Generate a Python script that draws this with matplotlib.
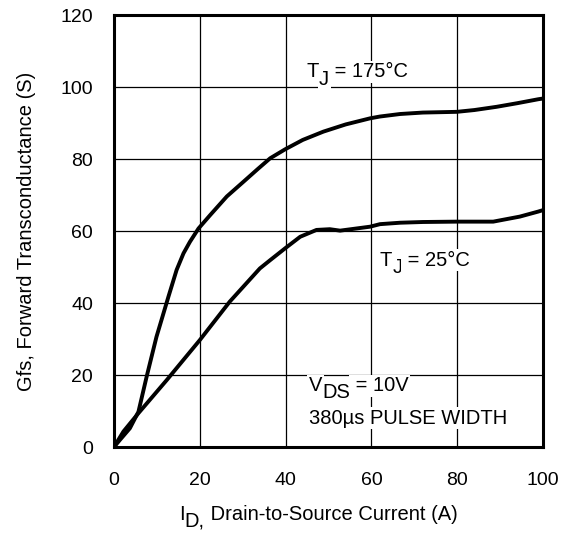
import numpy as np
import matplotlib
matplotlib.use("Agg")
import matplotlib.pyplot as plt

plt.rcParams['font.family'] = ['Liberation Sans', 'DejaVu Sans']

# 175°C 曲线
id_175 = [0, 1.4, 3.7, 5.7, 7.6, 9.9, 12.7, 14.6, 16.2, 17.7, 19.7, 22.4, 26.3, 30.1,
          33.5, 36.4, 39.9, 44.0, 48.8, 54.0, 59.7, 62.0, 66.7, 72.0, 79.9, 84.0,
          89.2, 94.0, 98.9, 100]
gfs_175 = [0, 2.0, 5.2, 9.8, 19.5, 30.6, 41.8, 49.2, 53.8, 57.0, 60.7, 64.4, 69.6, 73.6,
           77.2, 80.2, 82.7, 85.3, 87.6, 89.6, 91.3, 91.8, 92.5, 92.9, 93.1, 93.6,
           94.5, 95.5, 96.6, 96.8]

# 25°C 曲线
id_25 = [0, 2.2, 5.7, 12.3, 20.0, 27.0, 34.0, 36.4, 39.9, 43.4, 47.2, 50.3, 52.7,
         59.7, 62.0, 66.7, 72.0, 79.9, 88.4, 94.6, 98.9, 100]
gfs_25 = [0, 4.3, 9.4, 18.6, 29.7, 40.4, 49.6, 51.9, 55.2, 58.4, 60.3, 60.5, 60.1,
          61.2, 61.9, 62.3, 62.5, 62.6, 62.6, 64.0, 65.4, 65.8]

x_ticks = [0, 20, 40, 60, 80, 100]
y_ticks = [0, 20, 40, 60, 80, 100, 120]

fig = plt.figure(figsize=(5.69, 5.34), dpi=100)
ax = fig.add_axes([114/569, 1 - 447/534, (543-114)/569, (447-15)/534])

ax.plot(id_175, gfs_175, color='black', lw=2.8, zorder=3, solid_joinstyle='round')
ax.plot(id_25, gfs_25, color='black', lw=2.8, zorder=3, solid_joinstyle='round')

ax.set_xlim(0, 100)
ax.set_ylim(0, 120)
ax.set_xticks(x_ticks)
ax.set_yticks(y_ticks)
ax.grid(True, color='black', lw=0.9)
ax.tick_params(length=0, labelsize=14)
ax.tick_params(axis='x', pad=18)
ax.tick_params(axis='y', pad=15)
for s in ax.spines.values():
    s.set_linewidth(2.2)

box = dict(facecolor='white', edgecolor='none', pad=1)


# 带下标的文字：逐段拼接，下标与正文同字号、往下偏移
def rich(x, y, parts, fs, transform=None, bbox=None):
    first = ax.text(x, y, parts[0][0], fontsize=fs, va='baseline', bbox=bbox,
                    zorder=4, transform=transform or ax.transData)
    prev = first
    for s, dy in parts[1:]:
        prev = ax.annotate(s, xy=(1, 0), xycoords=(prev, first), xytext=(0, dy),
                           textcoords='offset points', va='bottom', fontsize=fs,
                           bbox=bbox, zorder=4, annotation_clip=False)


rich(44.9, 102.7, [('T', 0), ('J', -5.5), (' = 175°C', 0)], 14.5, bbox=box)
rich(62.0, 50.4, [('T', 0), ('J', -5.5), (' = 25°C', 0)], 14.5, bbox=box)
rich(45.4, 15.5, [('V', 2), ('DS', -5), (' = 10V', 0)], 14.5, bbox=box)
ax.text(45.4, 6.5, '380µs PULSE WIDTH', fontsize=14.5, va='baseline', bbox=box, zorder=4)

rich(179/569, 1 - 520/534, [('I', 0), ('D,', -5), (' Drain-to-Source Current (A)', 0)],
     14.5, transform=fig.transFigure)
ax.set_ylabel('Gfs, Forward Transconductance (S)', fontsize=14.5, labelpad=18)

fig.savefig('out.png', dpi=100)
